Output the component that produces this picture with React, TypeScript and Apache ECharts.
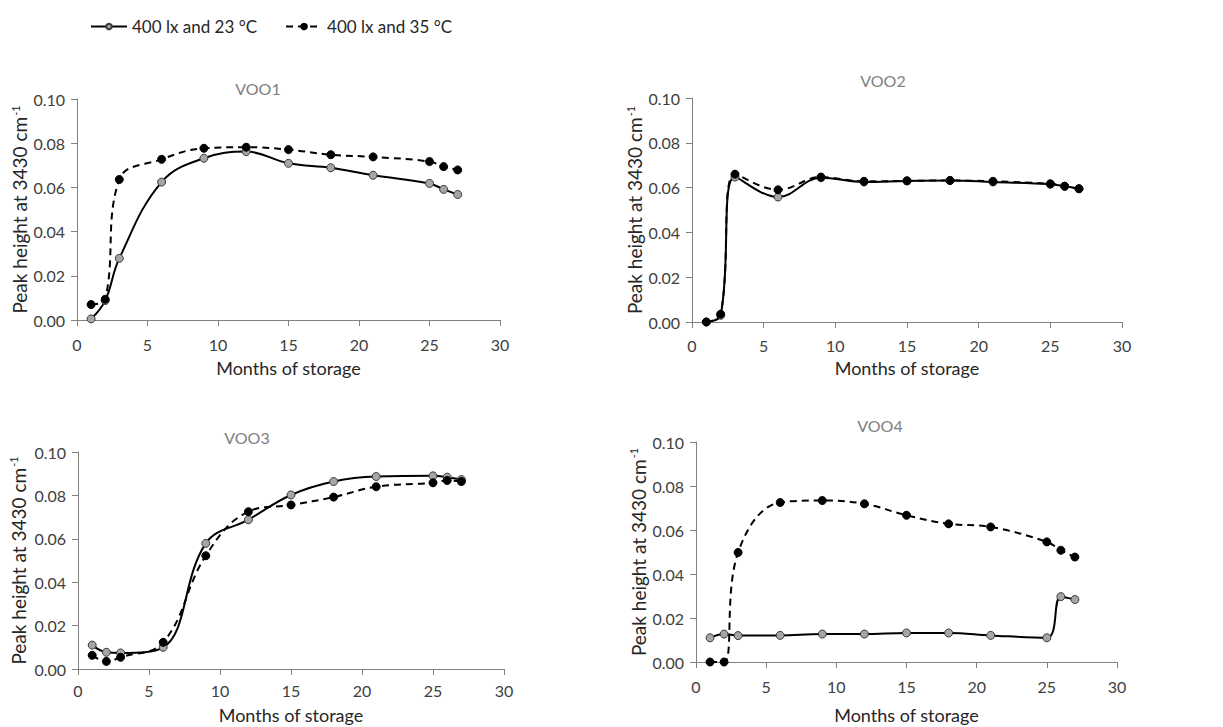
import React, { useEffect, useRef } from 'react';
import * as echarts from 'echarts';

const months = [1, 2, 3, 6, 9, 12, 15, 18, 21, 25, 26, 27];
const seriesNames = ['400 lx and 23 °C', '400 lx and 35 °C'];
const panelTitles = ['VOO1', 'VOO2', 'VOO3', 'VOO4'];
const yTicks = [0, 0.02, 0.04, 0.06, 0.08, 0.1];
const xTicks = [0, 5, 10, 15, 20, 25, 30];

const voo1_23 = [0.0005, 0.0088, 0.0279, 0.0624, 0.0732, 0.0762, 0.0709, 0.0689, 0.0655, 0.0618, 0.0591, 0.0568];
const voo1_35 = [0.007, 0.0094, 0.0636, 0.0727, 0.0777, 0.0782, 0.0771, 0.0748, 0.0738, 0.0717, 0.0694, 0.0679];
const voo2_23 = [0.0, 0.003, 0.0647, 0.0558, 0.0644, 0.0625, 0.063, 0.0632, 0.0625, 0.0615, 0.0606, 0.0595];
const voo2_35 = [0.0, 0.0035, 0.066, 0.059, 0.0647, 0.0628, 0.063, 0.0632, 0.0628, 0.0617, 0.0606, 0.0595];
const voo3_23 = [0.011, 0.0077, 0.0074, 0.01, 0.0579, 0.0688, 0.0802, 0.0864, 0.0887, 0.089, 0.0884, 0.0873];
const voo3_35 = [0.0063, 0.0035, 0.0054, 0.0123, 0.0522, 0.0725, 0.0756, 0.0792, 0.084, 0.0858, 0.0869, 0.0864];
const voo4_23 = [0.011, 0.0127, 0.012, 0.0121, 0.0127, 0.0127, 0.0132, 0.0132, 0.0121, 0.011, 0.0297, 0.0284];
const voo4_35 = [0.0, 0.0, 0.0498, 0.0725, 0.0734, 0.0719, 0.0667, 0.0628, 0.0614, 0.0546, 0.0508, 0.0477];

const panelData = [
  [voo1_23, voo1_35],
  [voo2_23, voo2_35],
  [voo3_23, voo3_35],
  [voo4_23, voo4_35],
];

const FONT = 'Lato';

const grids = [
  { left: 77, top: 99, width: 423, height: 221 },
  { left: 692, top: 98, width: 430, height: 224 },
  { left: 78, top: 452, width: 426, height: 217 },
  { left: 696, top: 442, width: 421, height: 220 },
];
const titlePos = [
  [258, 88],
  [883, 80],
  [247, 437],
  [880, 425],
];
const yNameGap = [46, 45, 50, 48];
const xNameGap = [39, 37, 37, 44];
const xLabelMargin = [16, 15, 13, 16];

export default function App() {
  const ref = useRef<HTMLDivElement>(null);
  useEffect(() => {
    document.body.style.margin = '0';
    if (!ref.current) return;
    const chart = echarts.init(ref.current, undefined, { renderer: 'svg' });
    const axisLineColor = '#808080';
    const xAxes = grids.map((_, i) => ({
      type: 'value',
      gridIndex: i,
      min: xTicks[0],
      max: xTicks[xTicks.length - 1],
      interval: 5,
      splitLine: { show: false },
      axisLine: { show: true, onZero: false, lineStyle: { color: axisLineColor, width: 1 } },
      axisTick: { show: true, length: 6, lineStyle: { color: axisLineColor } },
      axisLabel: { color: '#404040', fontSize: 16, fontFamily: FONT, margin: xLabelMargin[i] },
      name: 'Months of storage',
      nameLocation: 'middle',
      nameGap: xNameGap[i],
      nameTextStyle: { color: '#262626', fontSize: 18, fontFamily: FONT, verticalAlign: 'top' },
    }));
    const yAxes = grids.map((_, i) => ({
      type: 'value',
      gridIndex: i,
      min: yTicks[0],
      max: yTicks[yTicks.length - 1],
      interval: 0.02,
      splitLine: { show: false },
      axisLine: { show: true, lineStyle: { color: axisLineColor, width: 1 } },
      axisTick: { show: true, length: 6, lineStyle: { color: axisLineColor } },
      axisLabel: {
        color: '#404040',
        fontSize: 16,
        fontFamily: FONT,
        margin: 12,
        formatter: (v: number) => v.toFixed(2),
      },
      name: 'Peak height at 3430 cm{sup|-1}',
      nameLocation: 'middle',
      nameGap: yNameGap[i],
      nameTextStyle: {
        color: '#262626',
        fontSize: 19,
        fontFamily: FONT,
        rich: { sup: { fontSize: 11, verticalAlign: 'top', padding: [0, 0, 9, 1], fontFamily: FONT, color: '#262626' } },
      },
    }));
    const series: any[] = [];
    panelData.forEach((pair, i) => {
      series.push({
        name: seriesNames[0],
        type: 'line',
        xAxisIndex: i,
        yAxisIndex: i,
        smooth: 0.4,
        symbol: 'circle',
        symbolSize: 8,
        data: months.map((m, k) => [m, pair[0][k]]),
        lineStyle: { color: '#000', width: 2, type: 'solid' },
        itemStyle: { color: '#a6a6a6', borderColor: '#3a3a3a', borderWidth: 1 },
        z: 2,
      });
      series.push({
        name: seriesNames[1],
        type: 'line',
        xAxisIndex: i,
        yAxisIndex: i,
        smooth: 0.4,
        symbol: 'circle',
        symbolSize: 8,
        data: months.map((m, k) => [m, pair[1][k]]),
        lineStyle: { color: '#000', width: 2, type: [7, 5] },
        itemStyle: { color: '#000', borderColor: '#000', borderWidth: 1 },
        z: 3,
      });
    });
    chart.setOption({
      animation: false,
      backgroundColor: '#fff',
      textStyle: { fontFamily: FONT },
      legend: {
        data: seriesNames,
        left: 85,
        top: 13,
        itemWidth: 36,
        itemHeight: 7,
        itemGap: 28,
        textStyle: { fontSize: 17, fontFamily: FONT, color: '#262626' },
      },
      grid: grids,
      xAxis: xAxes,
      yAxis: yAxes,
      series,
      graphic: panelTitles.map((t, i) => ({
        type: 'text',
        x: titlePos[i][0],
        y: titlePos[i][1],
        style: {
          text: t,
          fill: '#808080',
          fontSize: 16,
          fontFamily: FONT,
          textAlign: 'center',
          textVerticalAlign: 'middle',
        },
      })),
    });
    return () => chart.dispose();
  }, []);
  return <div ref={ref} style={{ width: 1223, height: 727 }} />;
}
